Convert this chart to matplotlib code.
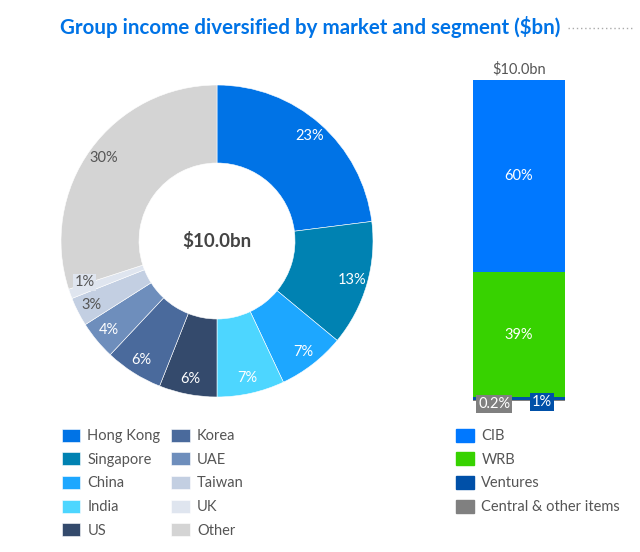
import matplotlib
matplotlib.use('Agg')
import matplotlib.pyplot as plt
from matplotlib.lines import Line2D
import numpy as np

plt.rcParams['font.family'] = ['Lato', 'DejaVu Sans']

# donut: income by market (% of group)
markets = ['Hong Kong', 'Singapore', 'China', 'India', 'US',
           'Korea', 'UAE', 'Taiwan', 'UK', 'Other']
market_pct = [23, 13, 7, 7, 6, 6, 4, 3, 1, 30]
market_colors = ['#0073E6', '#0082B2', '#1DA7FF', '#4DD6FF', '#344A6C',
                 '#4A6A9C', '#6E8EBC', '#C3CFE2', '#DFE5EF', '#D4D4D4']
dark_text = ['Taiwan', 'UK', 'Other']

# stacked bar: income by segment
segments = ['CIB', 'WRB', 'Ventures', 'Central & other items']
segment_pct = [60, 39, 1, 0.2]
segment_colors = ['#0078FF', '#37D200', '#0050A8', '#808080']
total = '$10.0bn'

title_blue = '#0073E6'
grey_txt = '#555555'

fig = plt.figure(figsize=(6.4, 5.52), dpi=100)
W, H = 640, 552

fig.text(310 / W, 1 - 27 / H, 'Group income diversified by market and segment ($bn)',
         color=title_blue, fontsize=14.8, fontweight='bold', ha='center', va='center')
fig.add_artist(Line2D([568 / W, 634 / W], [1 - 28 / H, 1 - 28 / H],
                      color='#AAAAAA', lw=1, ls=(0, (1, 2))))

# ---- donut
cx, cy, r = 217, 241, 156
half = 170
ax = fig.add_axes([(cx - half) / W, (H - cy - half) / H, 2 * half / W, 2 * half / H])
wedges, _ = ax.pie(market_pct, colors=market_colors, startangle=90, counterclock=False,
                   radius=1, wedgeprops=dict(width=0.5, edgecolor='white', linewidth=0.4))
ax.set_xlim(-half / r, half / r)
ax.set_ylim(-half / r, half / r)
ax.set_aspect('equal')
ax.axis('off')

for w, name, p in zip(wedges, markets, market_pct):
    ang = np.deg2rad((w.theta1 + w.theta2) / 2)
    x, y = 0.9 * np.cos(ang), 0.9 * np.sin(ang)
    col = '#555555' if name in dark_text else 'white'
    kw = {}
    if name == 'UK':
        y += 0.04
        kw['bbox'] = dict(boxstyle='square,pad=0.1', fc=w.get_facecolor(), ec='none')
    ax.text(x, y, f'{p}%', ha='center', va='center', color=col, fontsize=10.5, **kw)
ax.text(0, 0, total, ha='center', va='center', fontsize=13.5, fontweight='bold', color='#444444')

leg_kw = dict(frameon=False, fontsize=10.5, labelcolor=grey_txt, handlelength=1.25,
              handleheight=1.0, handletextpad=0.5, labelspacing=0.62, borderaxespad=0)
fig.legend(wedges, markets, ncol=2, loc='upper left',
           bbox_to_anchor=(56 / W, 1 - 423 / H), columnspacing=0.75, **leg_kw)

# ---- stacked bar
bx0, bx1, by_top, by_bot = 473, 565, 80, 401
bax = fig.add_axes([bx0 / W, (H - by_bot) / H, (bx1 - bx0) / W, (by_bot - by_top) / H])
order = [3, 2, 1, 0]  # bottom to top
bottom = 0
bars = {}
for i in order:
    b = bax.bar(0, segment_pct[i], bottom=bottom, width=1, color=segment_colors[i],
                edgecolor='none')
    bars[i] = (b, bottom)
    bottom += segment_pct[i]
bax.set_xlim(-0.5, 0.5)
bax.set_ylim(0, bottom)
bax.axis('off')

for i in (0, 1):
    b, bt = bars[i]
    bax.text(0, bt + segment_pct[i] / 2, f'{segment_pct[i]:g}%', ha='center', va='center',
             color='white', fontsize=10.5)
bax.text(-0.27, -0.9, f'{segment_pct[3]:g}%', ha='center', va='center', color='white',
         fontsize=10.5, bbox=dict(boxstyle='square,pad=0.15', fc=segment_colors[3], ec='none'),
         clip_on=False)
bax.text(0.25, -0.3, f'{segment_pct[2]:g}%', ha='center', va='center', color='white',
         fontsize=10.5, bbox=dict(boxstyle='square,pad=0.15', fc=segment_colors[2], ec='none'),
         clip_on=False)
bax.text(0, bottom + 1.2, total, ha='center', va='bottom', color=grey_txt, fontsize=10.5,
         clip_on=False)

seg_handles = [plt.Rectangle((0, 0), 1, 1, color=c) for c in segment_colors]
fig.legend(seg_handles, segments, loc='upper left', bbox_to_anchor=(450 / W, 1 - 423 / H),
           **leg_kw)

fig.savefig('out.png', dpi=100)
